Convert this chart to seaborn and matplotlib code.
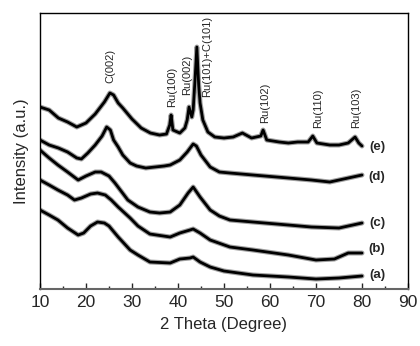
import matplotlib
matplotlib.use("Agg")
import matplotlib.pyplot as plt
import seaborn as sns
import pandas as pd
from matplotlib.ticker import MultipleLocator

# values (2 theta in degree, intensity in arbitrary units)
deg_a = [10, 12, 13.9, 16, 18.3, 19.5, 21, 22.5, 24, 25, 27, 29.6, 31.3, 33.9, 38.3, 40.4,
         42.6, 43.3, 44.8, 47, 50, 56.3, 64, 70, 75, 80]
int_a = [79, 74, 69, 61, 54, 56, 63, 67, 66, 63, 52, 39, 34, 27, 26, 30,
         31, 32, 27, 22, 18, 14, 12, 10, 11, 13]

deg_b = [10, 12, 13.9, 16, 17.5, 19, 21, 22.5, 24.2, 25.5, 27, 29.6, 31.3, 33.9, 38.3, 40.4,
         42.6, 43.3, 44.8, 47, 51.3, 56.3, 64, 70, 74, 77, 80]
int_b = [109, 104, 99, 94, 89, 91, 95, 96, 94, 89, 82, 71, 63, 55, 52, 56,
         59, 60, 56, 49, 42, 39, 34, 29, 30, 36, 36]

deg_c = [10, 12, 13.9, 16, 18.3, 20, 22, 23.3, 25, 26.3, 29.1, 31.3, 33.9, 36, 38.3, 40.4,
         42.2, 43.3, 44.8, 47, 49, 51.3, 56.3, 64, 69, 75, 80]
int_c = [139, 131, 124, 117, 109, 113, 117, 117, 113, 106, 89, 82, 77, 76, 77, 84,
         96, 102, 92, 79, 73, 69, 67, 64, 62, 61, 66]

deg_d = [10, 12, 14, 16, 18, 19, 20.4, 22, 23.5, 24.5, 25.3, 26, 27, 28, 29.6, 31, 33, 35, 37,
         38.3, 40.4, 42, 43.3, 44, 45, 47, 49, 51.3, 56.3, 64, 69, 73, 76, 80]
int_d = [149, 144, 141, 137, 131, 130, 136, 144, 153, 162, 159, 149, 142, 134, 126, 123, 121, 122, 123,
         124, 129, 137, 145, 143, 134, 122, 117, 116, 114, 111, 109, 107, 110, 114]

deg_e = [10, 12, 14, 16, 18, 20, 22, 24, 25.2, 26, 27, 28, 30, 32, 34, 36, 37.5, 38.2, 38.5, 38.9,
         40.4, 41.5, 42, 42.4, 43, 43.3, 43.7, 44.1, 44.5, 44.8, 45.4, 46.5, 48, 50, 52, 54, 56,
         58, 58.5, 59.3, 62, 64, 66, 68.3, 69.3, 70.2, 73, 75, 77, 78.5, 79.3, 80]
int_e = [182, 179, 171, 167, 162, 166, 175, 187, 196, 194, 186, 181, 170, 161, 156, 154, 155, 164, 174, 159,
         156, 161, 169, 182, 172, 179, 209, 242, 204, 186, 169, 157, 152, 151, 152, 156, 151,
         153, 159, 149, 147, 146, 147, 147, 153, 146, 144, 144, 146, 152, 146, 143]

sample_names = ["(a)", "(b)", "(c)", "(d)", "(e)"]
sample_label_y = [14, 40, 66, 112, 142]

peak_names = ["C(002)", "Ru(100)", "Ru(002)", "Ru(101)+C(101)", "Ru(102)", "Ru(110)", "Ru(103)"]
peak_pos = [25.4, 38.7, 42.0, 46.3, 58.9, 70.4, 78.7]
peak_label_y = [206, 182, 194, 192, 166, 161, 161]

sns.set_style("ticks")
plt.rcParams["font.family"] = ["Liberation Sans", "DejaVu Sans"]

fig = plt.figure(figsize=(4.2, 3.46), dpi=100)
ax = fig.add_axes([0.0952, 0.1647, 0.8762, 0.7977])

curves = [(deg_a, int_a), (deg_b, int_b), (deg_c, int_c), (deg_d, int_d), (deg_e, int_e)]
for deg, inten in curves:
    df = pd.DataFrame({"deg": deg, "inten": inten})
    # light grey halo + black core to mimic the noisy trace
    sns.lineplot(data=df, x="deg", y="inten", color="#a0a0a0", lw=3.6, ax=ax)
    sns.lineplot(data=df, x="deg", y="inten", color="black", lw=2.0, ax=ax)

for name, yy in zip(sample_names, sample_label_y):
    ax.text(83.3, yy, name, ha="center", va="center", fontsize=9.5, fontweight="bold")

for name, xx, yy in zip(peak_names, peak_pos, peak_label_y):
    ax.text(xx, yy, name, rotation=90, ha="center", va="bottom", fontsize=8)

ax.set_xlim(10, 90)
ax.set_ylim(0, 276)
ax.set_yticks([])
ax.xaxis.set_major_locator(MultipleLocator(10))
ax.xaxis.set_minor_locator(MultipleLocator(5))
ax.tick_params(axis="x", which="major", direction="in", length=4, width=1, labelsize=12.5, pad=4)
ax.tick_params(axis="x", which="minor", direction="in", length=2.5, width=1)

for side in ["top", "right", "left"]:
    ax.spines[side].set_visible(True)
    ax.spines[side].set_color("black")
    ax.spines[side].set_linewidth(1)
ax.spines["bottom"].set_color("#666666")
ax.spines["bottom"].set_linewidth(1.5)

ax.set_xlabel("2 Theta (Degree)", fontsize=12, labelpad=5)
ax.set_ylabel("Intensity (a.u.)", fontsize=12, labelpad=8)

fig.savefig("out.png", dpi=100)
